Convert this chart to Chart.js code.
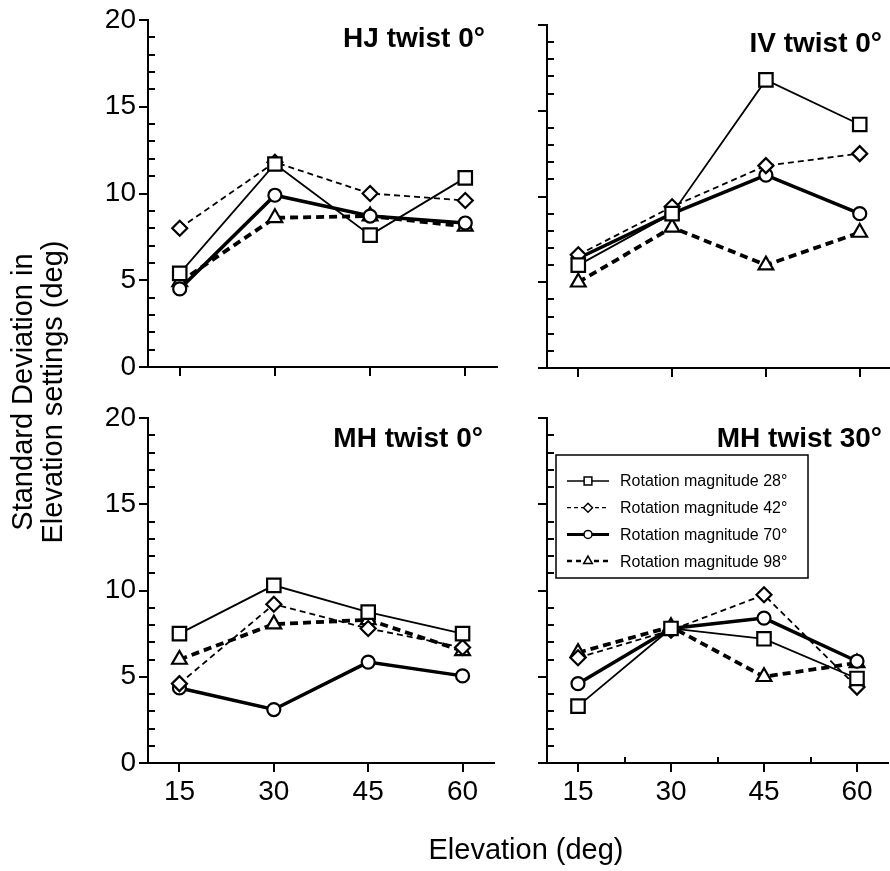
<!DOCTYPE html>
<html><head><meta charset="utf-8">
<script src="https://cdn.jsdelivr.net/npm/chart.js@4.4.1/dist/chart.umd.min.js"></script>
<style>
html,body{margin:0;padding:0;}
body{width:890px;height:871px;overflow:hidden;background:#fff;position:relative;font-family:"Liberation Sans",Arial,Helvetica,sans-serif;color:#000;}
canvas{position:absolute;left:0;top:0;}
.ttl{position:absolute;font-weight:bold;font-size:28px;line-height:28px;white-space:nowrap;text-align:right;width:300px;}
.ytitle{position:absolute;width:360px;height:60px;font-size:29px;line-height:30px;text-align:center;white-space:nowrap;transform:rotate(-90deg);transform-origin:50% 50%;}
.xtitle{position:absolute;width:300px;font-size:29px;line-height:30px;text-align:center;white-space:nowrap;}
</style>
</head><body>
<script>
// ---------------- data ----------------
const elevations = [15, 30, 45, 60];
const xTickValues = [15, 30, 45, 60];
const xMinorTickValues = [22.5, 37.5, 52.5];
const yTickValues = [0, 5, 10, 15, 20];
const yMinorTickValues = [1, 2, 3, 4, 6, 7, 8, 9, 11, 12, 13, 14, 16, 17, 18, 19];
const seriesLabels = ['Rotation magnitude 28°', 'Rotation magnitude 42°', 'Rotation magnitude 70°', 'Rotation magnitude 98°'];
const panelTitles = ['HJ twist 0°', 'IV twist 0°', 'MH twist 0°', 'MH twist 30°'];
const yAxisTitle = ['Standard Deviation in', 'Elevation settings (deg)'];
const xAxisTitle = 'Elevation (deg)';

// HJ twist 0
const hj28 = [5.4, 11.7, 7.6, 10.9];
const hj42 = [8.0, 11.8, 10.0, 9.6];
const hj70 = [4.5, 9.9, 8.7, 8.3];
const hj98 = [4.9, 8.6, 8.7, 8.1];
// IV twist 0
const iv28 = [6.0, 9.0, 16.8, 14.2];
const iv42 = [6.6, 9.4, 11.8, 12.5];
const iv70 = [6.4, 9.0, 11.25, 9.0];
const iv98 = [5.0, 8.2, 6.0, 7.9];
// MH twist 0
const mh0_28 = [7.5, 10.3, 8.75, 7.5];
const mh0_42 = [4.6, 9.2, 7.8, 6.7];
const mh0_70 = [4.35, 3.1, 5.85, 5.05];
const mh0_98 = [6.0, 8.05, 8.3, 6.5];
// MH twist 30
const mh30_28 = [3.3, 7.8, 7.2, 4.9];
const mh30_42 = [6.1, 7.7, 9.75, 4.4];
const mh30_70 = [4.6, 7.8, 8.4, 5.9];
const mh30_98 = [6.4, 7.9, 5.0, 5.8];

// ---------------- styles / layout ----------------
const FONT = "'Liberation Sans', Arial, Helvetica, sans-serif";
const CW = 920, CH = 871;
const seriesStyles = [
  {pointStyle: 'rect',     radius: 9.5, lineWidth: 1.8, dash: [],     legendLW: 1.5, legendDash: [],     legendR: 5.5},
  {pointStyle: 'rectRot',  radius: 7.5, lineWidth: 1.8, dash: [6, 4], legendLW: 1.3, legendDash: [4, 3], legendR: 4.5},
  {pointStyle: 'circle',   radius: 6.5, lineWidth: 3.5, dash: [],     legendLW: 3,   legendDash: [],     legendR: 4},
  {pointStyle: 'triangle', radius: 8.5, lineWidth: 3.8, dash: [8, 5], legendLW: 2.5, legendDash: [5, 4], legendR: 5}
];
const panels = [
  {title: 0, series: [hj28, hj42, hj70, hj98],         area: {l: 148, r: 497, t: 20,  b: 367}, yLabels: true,  xLabels: false, xMinor: false, legend: false, titleRight: 485, titleCY: 38},
  {title: 1, series: [iv28, iv42, iv70, iv98],         area: {l: 547, r: 891, t: 25,  b: 368}, yLabels: false, xLabels: false, xMinor: false, legend: false, titleRight: 882, titleCY: 43},
  {title: 2, series: [mh0_28, mh0_42, mh0_70, mh0_98], area: {l: 148, r: 494, t: 418, b: 763}, yLabels: true,  xLabels: true,  xMinor: false, legend: false, titleRight: 483, titleCY: 438},
  {title: 3, series: [mh30_28, mh30_42, mh30_70, mh30_98], area: {l: 547, r: 888, t: 418, b: 763}, yLabels: false, xLabels: true, xMinor: true, legend: true, titleRight: 882, titleCY: 438}
];

// ---------------- plugins ----------------
const minorTicks = {
  id: 'minorTicks',
  afterDraw(chart, args, opts) {
    const {ctx, chartArea: a, scales: {x, y}} = chart;
    ctx.save();
    ctx.strokeStyle = '#000';
    ctx.lineWidth = 2;
    ctx.beginPath();
    for (const v of yMinorTickValues) {
      const py = Math.round(y.getPixelForValue(v));
      ctx.moveTo(a.left, py);
      ctx.lineTo(a.left + 7, py);
    }
    if (opts.xMinor) {
      for (const v of xMinorTickValues) {
        const px = Math.round(x.getPixelForValue(v));
        ctx.moveTo(px, a.bottom);
        ctx.lineTo(px, a.bottom - 6);
      }
    }
    ctx.stroke();
    ctx.restore();
  }
};

const boxLegend = {
  id: 'boxLegend',
  afterDraw(chart, args, opts) {
    if (!opts.show) return;
    const {ctx, chartArea: a} = chart;
    const bx = a.left + 9, by = a.top + 37, bw = 252, bh = 123;
    ctx.save();
    ctx.fillStyle = '#fff';
    ctx.fillRect(bx, by, bw, bh);
    ctx.strokeStyle = '#000';
    ctx.lineWidth = 1.5;
    ctx.strokeRect(bx, by, bw, bh);
    chart.data.datasets.forEach((ds, i) => {
      const st = seriesStyles[i];
      const cy = by + 26 + i * 26.7;
      ctx.save();
      ctx.strokeStyle = '#000';
      ctx.lineWidth = st.legendLW;
      ctx.setLineDash(st.legendDash);
      ctx.beginPath();
      ctx.moveTo(bx + 11, cy);
      ctx.lineTo(bx + 53, cy);
      ctx.stroke();
      ctx.setLineDash([]);
      ctx.fillStyle = '#fff';
      ctx.lineWidth = 1.5;
      if (Chart.helpers && Chart.helpers.drawPoint) {
        Chart.helpers.drawPoint(ctx, {pointStyle: st.pointStyle, rotation: 0, radius: st.legendR, borderWidth: 1.5}, bx + 32, cy);
      }
      ctx.restore();
      ctx.fillStyle = '#000';
      ctx.font = "16px " + FONT;
      ctx.textBaseline = 'middle';
      ctx.textAlign = 'left';
      ctx.fillText(ds.label, bx + 64, cy + 1);
    });
    ctx.restore();
  }
};

// ---------------- build charts ----------------
function makePanel(p) {
  const cv = document.createElement('canvas');
  cv.width = CW; cv.height = CH;
  cv.style.width = CW + 'px'; cv.style.height = CH + 'px';
  document.body.appendChild(cv);
  const yW = 60, xH = p.xLabels ? 50 : 20;
  const datasets = p.series.map((vals, i) => {
    const st = seriesStyles[i];
    return {
      label: seriesLabels[i],
      data: elevations.map((e, j) => ({x: e, y: vals[j]})),
      borderColor: '#000',
      backgroundColor: '#fff',
      borderWidth: st.lineWidth,
      borderDash: st.dash,
      pointStyle: st.pointStyle,
      pointRadius: st.radius,
      pointBorderWidth: 2.2,
      pointBackgroundColor: '#fff',
      pointBorderColor: '#000',
      tension: 0,
      fill: false,
      clip: false
    };
  });
  new Chart(cv, {
    type: 'line',
    data: {datasets},
    options: {
      responsive: false,
      animation: false,
      devicePixelRatio: 1,
      events: [],
      layout: {
        autoPadding: false,
        padding: {left: p.area.l - yW, right: CW - p.area.r, top: p.area.t, bottom: CH - p.area.b - xH}
      },
      plugins: {
        legend: {display: false},
        tooltip: {enabled: false},
        title: {display: false},
        minorTicks: {xMinor: p.xMinor},
        boxLegend: {show: p.legend}
      },
      scales: {
        x: {
          type: 'linear', min: 10, max: 65,
          afterBuildTicks: s => { s.ticks = xTickValues.map(v => ({value: v})); },
          afterFit: s => { s.height = xH; },
          grid: {display: true, drawOnChartArea: false, drawTicks: true, tickLength: 9, lineWidth: 2, tickWidth: 2, tickColor: '#000', color: '#000'},
          border: {display: true, color: '#000', width: 2},
          ticks: {display: p.xLabels, color: '#000', font: {family: FONT, size: 28}, padding: 3, maxRotation: 0, autoSkip: false}
        },
        y: {
          type: 'linear', min: 0, max: 20,
          afterBuildTicks: s => { s.ticks = yTickValues.map(v => ({value: v})); },
          afterFit: s => { s.width = yW; },
          grid: {display: true, drawOnChartArea: false, drawTicks: true, tickLength: 9, lineWidth: 2, tickWidth: 2, tickColor: '#000', color: '#000'},
          border: {display: true, color: '#000', width: 2},
          ticks: {display: p.yLabels, color: '#000', font: {family: FONT, size: 28}, padding: 3, autoSkip: false}
        }
      }
    },
    plugins: [minorTicks, boxLegend]
  });
}
panels.forEach(makePanel);

// ---------------- text ----------------
panels.forEach(p => {
  const d = document.createElement('div');
  d.className = 'ttl';
  d.textContent = panelTitles[p.title];
  d.style.left = (p.titleRight - 300) + 'px';
  d.style.top = (p.titleCY - 14) + 'px';
  document.body.appendChild(d);
});
const yt = document.createElement('div');
yt.className = 'ytitle';
yt.innerHTML = yAxisTitle[0] + '<br>' + yAxisTitle[1];
yt.style.left = (37 - 180) + 'px';
yt.style.top = (392 - 30) + 'px';
document.body.appendChild(yt);
const xt = document.createElement('div');
xt.className = 'xtitle';
xt.textContent = xAxisTitle;
xt.style.left = (526 - 150) + 'px';
xt.style.top = '834px';
document.body.appendChild(xt);
</script>
</body></html>
